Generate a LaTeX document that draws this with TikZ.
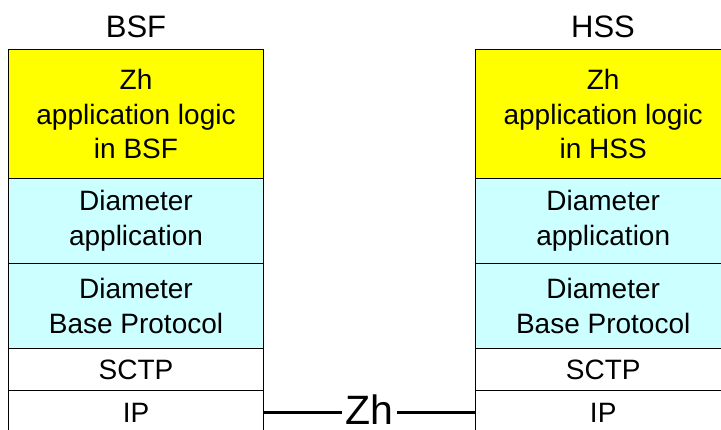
\documentclass[tikz,border=0pt]{standalone}
\usepackage{fontspec}
\setmainfont{Liberation Sans}
\begin{document}
\begin{tikzpicture}[x=1pt,y=-1pt,
  layer/.style={draw=black, line width=1pt, minimum width=255pt, inner sep=0pt, outer sep=0pt,
    align=center, anchor=north west, font=\fontsize{28}{34.5}\selectfont},
  appl/.style={layer, fill={rgb,255:red,255;green,255;blue,0}},
  diam/.style={layer, fill={rgb,255:red,204;green,255;blue,255}},
  plain/.style={layer, fill=white},
  title/.style={font=\fontsize{31}{31}\selectfont, inner sep=0pt},
  iface/.style={line width=2.5pt, black}]
\useasboundingbox (0,0) rectangle (721,430);
\clip (0,0) rectangle (721,430);
% BSF stack
\node[appl, minimum height=128.3pt] (bz) at (8.5,50) {Zh\\application logic\\in BSF};
\node[diam, minimum height=85pt] (bda) at (8.5,178.3) {Diameter\\application};
\node[diam, minimum height=85pt] (bdb) at (8.5,263.3) {Diameter\\Base Protocol};
\node[plain, minimum height=42.7pt] (bsctp) at (8.5,348.3) {SCTP};
\node[plain, minimum height=43pt] (bip) at (8.5,391) {IP};
\node[title] (bsf) at (136,27) {BSF};
% HSS stack
\node[appl, minimum height=128.3pt] (hz) at (475.7,50) {Zh\\application logic\\in HSS};
\node[diam, minimum height=85pt] (hda) at (475.7,178.3) {Diameter\\application};
\node[diam, minimum height=85pt] (hdb) at (475.7,263.3) {Diameter\\Base Protocol};
\node[plain, minimum height=42.7pt] (hsctp) at (475.7,348.3) {SCTP};
\node[plain, minimum height=43pt] (hip) at (475.7,391) {IP};
\node[title] (hss) at (603,27) {HSS};
% Zh interface
\node[font=\fontsize{41}{41}\selectfont, inner sep=3pt] (zh) at (369.5,410) {Zh};
\draw[iface] (bip.east) -- (bip.east -| zh.west);
\draw[iface] (zh.east |- hip.west) -- (hip.west);
\end{tikzpicture}
\end{document}
